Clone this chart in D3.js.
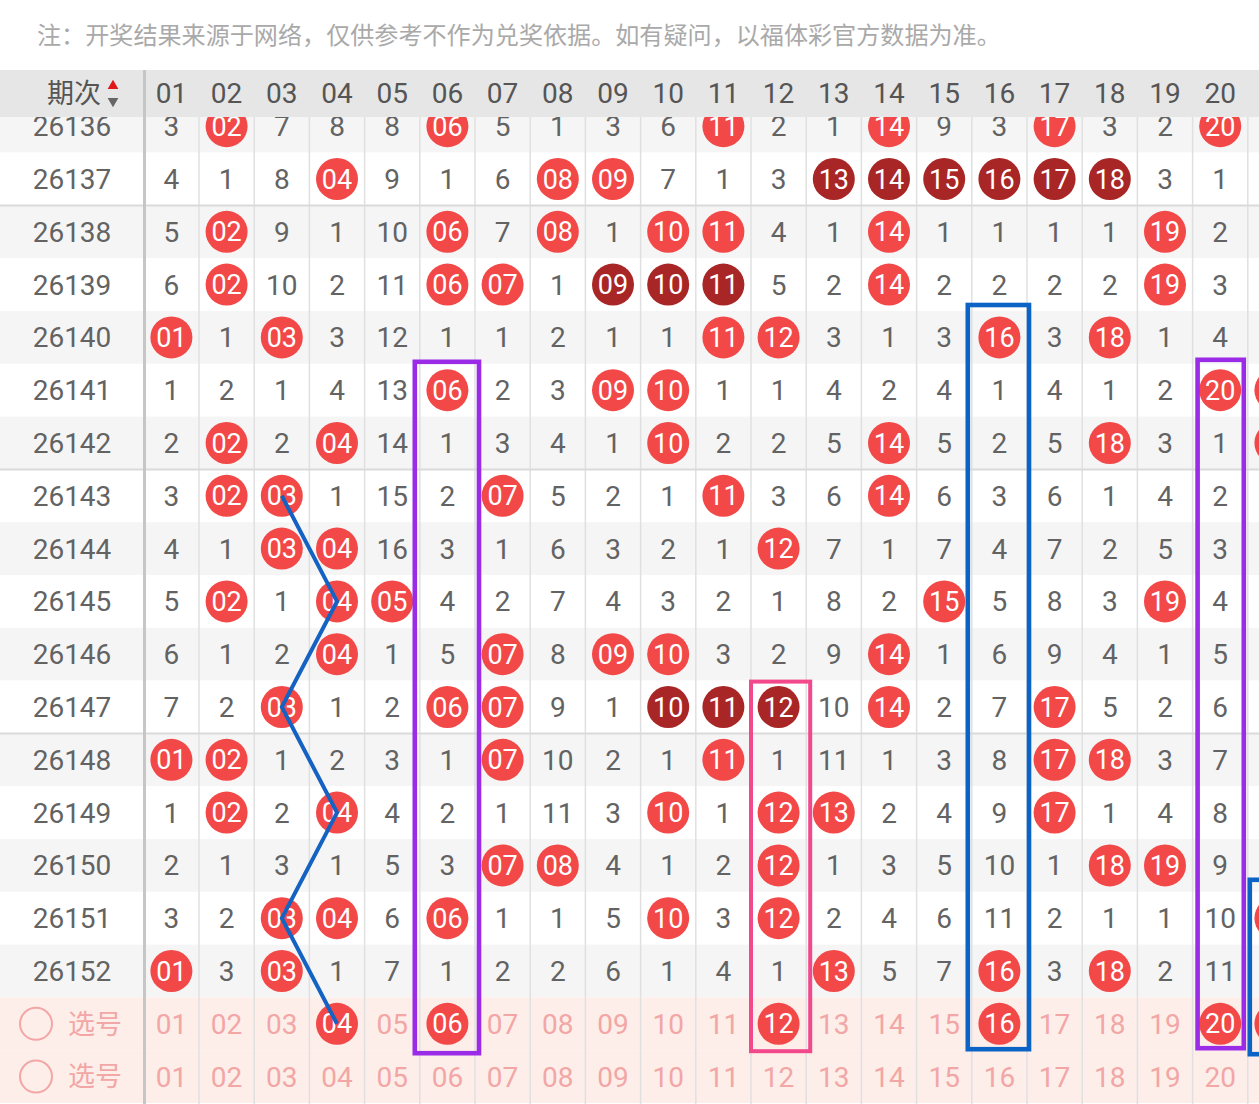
<!DOCTYPE html>
<html><head><meta charset="utf-8">
<script src="https://cdn.jsdelivr.net/npm/d3@7"></script>
<style>
html,body{margin:0;padding:0;background:#fff;}
svg{display:block;}
</style></head>
<body>
<script>
// ---------- data ----------
const noteText = "注：开奖结果来源于网络，仅供参考不作为兑奖依据。如有疑问，以福体彩官方数据为准。";
const numbers = ["01","02","03","04","05","06","07","08","09","10","11","12","13","14","15","16","17","18","19","20","21"];
const periods = ["26136","26137","26138","26139","26140","26141","26142","26143","26144","26145","26146","26147","26148","26149","26150","26151","26152"];
// miss counts per period for numbers 01..20 ; 0 = drawn (ball)
const missCounts = [
 [3,0,7,8,8,0,5,1,3,6,0,2,1,0,9,3,0,3,2,0],
 [4,1,8,0,9,1,6,0,0,7,1,3,0,0,0,0,0,0,3,1],
 [5,0,9,1,10,0,7,0,1,0,0,4,1,0,1,1,1,1,0,2],
 [6,0,10,2,11,0,0,1,0,0,0,5,2,0,2,2,2,2,0,3],
 [0,1,0,3,12,1,1,2,1,1,0,0,3,1,3,0,3,0,1,4],
 [1,2,1,4,13,0,2,3,0,0,1,1,4,2,4,1,4,1,2,0],
 [2,0,2,0,14,1,3,4,1,0,2,2,5,0,5,2,5,0,3,1],
 [3,0,0,1,15,2,0,5,2,1,0,3,6,0,6,3,6,1,4,2],
 [4,1,0,0,16,3,1,6,3,2,1,0,7,1,7,4,7,2,5,3],
 [5,0,1,0,0,4,2,7,4,3,2,1,8,2,0,5,8,3,0,4],
 [6,1,2,0,1,5,0,8,0,0,3,2,9,0,1,6,9,4,1,5],
 [7,2,0,1,2,0,0,9,1,0,0,0,10,0,2,7,0,5,2,6],
 [0,0,1,2,3,1,0,10,2,1,0,1,11,1,3,8,0,0,3,7],
 [1,0,2,0,4,2,1,11,3,0,1,0,0,2,4,9,0,1,4,8],
 [2,1,3,1,5,3,0,0,4,1,2,0,1,3,5,10,1,0,0,9],
 [3,2,0,0,6,0,1,1,5,0,3,0,2,4,6,11,2,1,1,10],
 [0,3,0,1,7,1,2,2,6,1,4,1,0,5,7,0,3,0,2,11]
];
// consecutive-run balls (dark red)
const darkBalls = [
 ["26137","13"],["26137","14"],["26137","15"],["26137","16"],["26137","17"],["26137","18"],
 ["26139","09"],["26139","10"],["26139","11"],
 ["26147","10"],["26147","11"],["26147","12"]
];
// partially visible column 21 hits (only the ball edge is in view)
const col21Hits = ["26141","26142","26151","pick1"];
const pickRows = ["pick1","pick2"];
const pickLabel = "选号";
const pickedNumbers = ["04","06","12","16","20","21"];
// annotation path (number, row)
const zigzag = [["03","26143"],["04","26145"],["03","26147"],["04","26149"],["03","26151"],["04","pick1"]];
// annotation boxes: number, first row, last row, colour key
const boxes = [
 {num:"06", from:"26141", to:"pick1", kind:"purple", padL:5, padR:4, padT:2, padB:3},
 {num:"12", from:"26147", to:"pick1", kind:"pink", padL:0, padR:4, padT:-1, padB:1},
 {num:"16", from:"26140", to:"pick1", kind:"blue", padL:4, padR:2, padT:6, padB:-1},
 {num:"20", from:"26141", to:"pick1", kind:"purple", padL:-5, padR:-4, padT:4, padB:-2},
 {num:"21", from:"26151", to:"pick1", kind:"blue", padL:-2, padR:0, padT:12, padB:4}
];

// ---------- layout ----------
const W = 1259, H = 1104;
const colors = {red:"#f24848", dark:"#a92626", purple:"#9a2be6", pink:"#f2488c", blue:"#0b63c6",
  text:"#636363", pinkText:"#f2a6a6", pinkBg:"#fdeee9", rowAlt:"#f5f5f5", header:"#e6e6e6"};
const numFont = "Roboto, 'Noto Sans', sans-serif";
const cjkFont = "'Noto Sans CJK SC', 'Noto Sans', sans-serif";

const svg = d3.select("body").append("svg").attr("width", W).attr("height", H);

const x = d3.scaleBand().domain(numbers).range([143.8, 143.8 + numbers.length * 55.2]);
const allRows = periods.concat(pickRows);
const y = d3.scaleBand().domain(allRows).range([99.8, 99.8 + allRows.length * 52.8]);
const cx = n => x(n) + x.bandwidth() / 2;
const cy = r => y(r) + y.bandwidth() / 2;
const R = 21;

// note
svg.append("text").attr("x", 37).attr("y", 35).attr("dy", "0.36em")
  .attr("font-family", cjkFont).attr("font-size", 24.1).attr("fill", "#a9a9a9").text(noteText);

// body group
const body = svg.append("g");
body.selectAll("rect.rowbg").data(allRows).join("rect")
  .attr("x", 0).attr("width", W).attr("y", d => y(d)).attr("height", y.bandwidth())
  .attr("fill", (d, i) => pickRows.includes(d) ? colors.pinkBg : (i % 2 === 0 ? colors.rowAlt : "#fff"));

// vertical dividers
body.selectAll("line.vdiv").data(numbers.slice(1)).join("line")
  .attr("x1", d => x(d)).attr("x2", d => x(d)).attr("y1", 117).attr("y2", H)
  .attr("stroke", "#e0e0e0").attr("stroke-width", 1.5);

// group separators (every 5 periods)
const groupStarts = ["26138","26143","26148"];
body.selectAll("line.hdiv").data(groupStarts).join("line")
  .attr("x1", 0).attr("x2", W).attr("y1", d => y(d)).attr("y2", d => y(d))
  .attr("stroke", "#dadada").attr("stroke-width", 2);

// period labels
body.selectAll("text.period").data(periods).join("text")
  .attr("x", 72).attr("y", d => cy(d)).attr("dy", "0.355em").attr("text-anchor", "middle")
  .attr("font-family", numFont).attr("font-size", 28).attr("fill", colors.text).text(d => d);

// cells
const darkSet = new Set(darkBalls.map(d => d[0] + "|" + d[1]));
const cells = [];
periods.forEach((p, i) => missCounts[i].forEach((v, j) => cells.push({p, n: numbers[j], v})));
const misses = cells.filter(c => c.v !== 0);
const hits = cells.filter(c => c.v === 0);
body.selectAll("text.miss").data(misses).join("text")
  .attr("x", d => cx(d.n)).attr("y", d => cy(d.p)).attr("dy", "0.355em").attr("text-anchor", "middle")
  .attr("font-family", numFont).attr("font-size", 28).attr("fill", colors.text).text(d => d.v);

const pickHits = pickedNumbers.filter(n => n !== "21").map(n => ({p: "pick1", n}));
const col21 = col21Hits.map(p => ({p, n: "21", edge: true}));
const ballData = hits.concat(pickHits).concat(col21);
const balls = body.selectAll("g.ball").data(ballData).join("g")
  .attr("transform", d => `translate(${cx(d.n)},${cy(d.p)})`);
balls.append("circle").attr("r", R)
  .attr("fill", d => darkSet.has(d.p + "|" + d.n) ? colors.dark : colors.red);
balls.filter(d => !d.edge).append("text").attr("dy", "0.355em").attr("text-anchor", "middle")
  .attr("font-family", numFont).attr("font-size", 27).attr("fill", "#fff").text(d => d.n);

// pick rows
const pickG = body.selectAll("g.pick").data(pickRows).join("g");
pickG.append("circle").attr("cx", 36).attr("cy", d => cy(d)).attr("r", 16)
  .attr("fill", "none").attr("stroke", colors.pinkText).attr("stroke-width", 2);
pickG.append("text").attr("x", 68).attr("y", d => cy(d)).attr("dy", "0.36em")
  .attr("font-family", cjkFont).attr("font-size", 27).attr("fill", colors.pinkText).text(pickLabel);
const pickCells = [];
pickRows.forEach(r => numbers.slice(0, 20).forEach(n => {
  if (!(r === "pick1" && pickedNumbers.includes(n))) pickCells.push({p: r, n});
}));
body.selectAll("text.pickn").data(pickCells).join("text")
  .attr("x", d => cx(d.n)).attr("y", d => cy(d.p)).attr("dy", "0.355em").attr("text-anchor", "middle")
  .attr("font-family", numFont).attr("font-size", 28).attr("fill", colors.pinkText).text(d => d.n);

// annotation boxes
body.selectAll("rect.box").data(boxes).join("rect")
  .attr("x", d => x(d.num) - d.padL)
  .attr("y", d => y(d.from) - d.padT)
  .attr("width", d => x.bandwidth() + d.padL + d.padR)
  .attr("height", d => y(d.to) + y.bandwidth() - y(d.from) + d.padT + d.padB)
  .attr("fill", "none").attr("stroke", d => colors[d.kind])
  .attr("stroke-width", d => d.kind === "pink" ? 4 : 4.6);

// zigzag line
const line = d3.line().x(d => cx(d[0])).y(d => cy(d[1]));
body.append("path").attr("d", line(zigzag)).attr("fill", "none")
  .attr("stroke", "#1462c2").attr("stroke-width", 4).attr("stroke-linejoin", "miter");

// header
const head = svg.append("g");
head.append("rect").attr("x", 0).attr("y", 70).attr("width", W).attr("height", 47).attr("fill", colors.header);
head.selectAll("text.hnum").data(numbers.slice(0, 20)).join("text")
  .attr("x", d => cx(d)).attr("y", 93.5).attr("dy", "0.355em").attr("text-anchor", "middle")
  .attr("font-family", numFont).attr("font-size", 28).attr("fill", "#555").text(d => d);
head.append("text").attr("x", 101).attr("y", 93.5).attr("dy", "0.36em").attr("text-anchor", "end")
  .attr("font-family", cjkFont).attr("font-size", 27).attr("fill", "#555").text("期次");
head.append("path").attr("d", d3.symbol(d3.symbolTriangle, 50)()).attr("transform", "translate(113,86)").attr("fill", "#e01818");
head.append("path").attr("d", d3.symbol(d3.symbolTriangle, 50)()).attr("transform", "translate(113,101) rotate(180)").attr("fill", "#666");

// thick left divider
svg.append("line").attr("x1", 144.5).attr("x2", 144.5).attr("y1", 70).attr("y2", H)
  .attr("stroke", "#c6c6c6").attr("stroke-width", 3);
</script>
</body></html>
